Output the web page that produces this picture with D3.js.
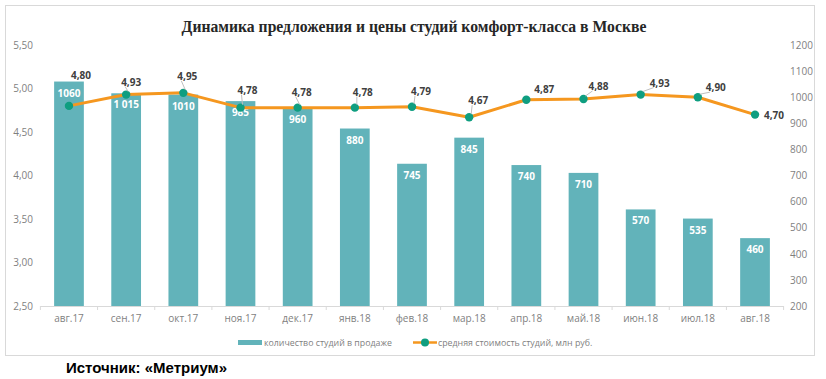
<!DOCTYPE html>
<html><head><meta charset="utf-8">
<script src="https://cdn.jsdelivr.net/npm/d3@7"></script>
<style>
html,body{margin:0;padding:0;background:#fff;}
svg{display:block;}
</style>
</head><body>
<svg id="c" width="826" height="379"></svg>
<script>
const categories = ["авг.17","сен.17","окт.17","ноя.17","дек.17","янв.18","фев.18","мар.18","апр.18","май.18","июн.18","июл.18","авг.18"];
const countValues = [1060,1015,1010,985,960,880,745,845,740,710,570,535,460];
const countLabels = ["1060","1 015","1010","985","960","880","745","845","740","710","570","535","460"];
const priceValues = [4.80,4.93,4.95,4.78,4.78,4.78,4.79,4.67,4.87,4.88,4.93,4.90,4.70];
const leftTicks = [2.5,3.0,3.5,4.0,4.5,5.0,5.5];
const rightTicks = [200,300,400,500,600,700,800,900,1000,1100,1200];
const title = "Динамика предложения и цены студий комфорт-класса в Москве";
const legendBars = "количество студий в продаже";
const legendLine = "средняя стоимость студий, млн руб.";
const source = "Источник: «Метриум»";

// label placement for price labels (dx, dy from point; leader flag)
const priceLabelOffsets = [[12,-31,0],[5,-13,1],[4,-17,1],[7,-18,1],[4,-16,1],[8,-16,1],[9,-16,1],[9,-17,1],[18,-11,0],[15,-13,1],[19,-12,1],[18,-10,1],[19,0,0]];

const svg = d3.select("#c");
const sans = "'Open Sans', 'Liberation Sans', sans-serif";
const gray = "#7f7f7f";

// frame
svg.append("rect").attr("x",5.5).attr("y",5.5).attr("width",809).attr("height",350)
  .attr("fill","#fff").attr("stroke","#d9d9d9").attr("stroke-width",1);

svg.append("text").attr("x",414).attr("y",32).attr("text-anchor","middle")
  .attr("font-family","'Liberation Serif', 'Times New Roman', serif").attr("font-weight","bold")
  .attr("font-size",15.7).attr("fill","#262626").text(title);

const x = d3.scaleBand().domain(categories).range([40.4,783.6]).paddingInner(0.48).paddingOuter(0.24);
const yL = d3.scaleLinear().domain([2.5,5.5]).range([306,45]);
const yR = d3.scaleLinear().domain([200,1200]).range([306,45]);

// bars
svg.append("g").selectAll("rect").data(countValues).join("rect")
  .attr("x",(d,i)=>x(categories[i])).attr("width",x.bandwidth())
  .attr("y",d=>yR(d)).attr("height",d=>yR(200)-yR(d)).attr("fill","#62b3ba");

svg.append("g").selectAll("text").data(countValues).join("text")
  .attr("x",(d,i)=>x(categories[i])+x.bandwidth()/2).attr("y",d=>yR(d)+15)
  .attr("text-anchor","middle").attr("font-family",sans).attr("font-weight","bold")
  .attr("font-size",10).attr("fill","#fff").text((d,i)=>countLabels[i]);

// x axis
const xAxis = d3.axisBottom(x).tickSize(0).tickPadding(9);
const gx = svg.append("g").attr("transform","translate(0,306)").call(xAxis);
gx.select(".domain").remove();
gx.selectAll("text").attr("font-family",sans).attr("font-size",10).attr("fill",gray);
svg.append("line").attr("x1",40.4).attr("x2",783.6).attr("y1",306.5).attr("y2",306.5).attr("stroke","#d9d9d9");
const step = x.step();
svg.append("g").selectAll("line").data(d3.range(categories.length+1)).join("line")
  .attr("x1",i=>40.4+i*step).attr("x2",i=>40.4+i*step).attr("y1",306).attr("y2",310)
  .attr("stroke","#d9d9d9");

// left axis
const gl = svg.append("g").attr("transform","translate(40,0)")
  .call(d3.axisLeft(yL).tickValues(leftTicks).tickSize(0).tickPadding(7).tickFormat(d=>d3.format(".2f")(d).replace(".",",")));
gl.select(".domain").remove();
gl.selectAll("text").attr("font-family",sans).attr("font-size",10).attr("fill",gray);

// right axis
const gr = svg.append("g").attr("transform","translate(784,0)")
  .call(d3.axisRight(yR).tickValues(rightTicks).tickSize(0).tickPadding(6).tickFormat(d3.format("d")));
gr.select(".domain").remove();
gr.selectAll("text").attr("font-family",sans).attr("font-size",10).attr("fill",gray);

// price line
const cx = (i)=>x(categories[i])+x.bandwidth()/2;
const line = d3.line().x((d,i)=>cx(i)).y(d=>yL(d));
svg.append("path").datum(priceValues).attr("d",line).attr("fill","none")
  .attr("stroke","#f5971f").attr("stroke-width",3).attr("stroke-linejoin","round");
svg.append("g").selectAll("circle").data(priceValues).join("circle")
  .attr("cx",(d,i)=>cx(i)).attr("cy",d=>yL(d)).attr("r",4.2).attr("fill","#0f9e80");

// price labels
const pl = svg.append("g");
priceValues.forEach((d,i)=>{
  const [dx,dy,lead] = priceLabelOffsets[i];
  const px = cx(i), py = yL(d);
  if(lead){
    pl.append("line").attr("x1",px+2).attr("y1",py-3).attr("x2",px+dx-6).attr("y2",py+dy+5)
      .attr("stroke","#bfbfbf").attr("stroke-width",1);
  }
  pl.append("text").attr("x",px+dx).attr("y",py+dy+4).attr("text-anchor","middle")
    .attr("font-family",sans).attr("font-weight","bold").attr("font-size",10).attr("fill","#404040")
    .text(d3.format(".2f")(d).replace(".",","));
});

// legend
const lg = svg.append("g");
lg.append("rect").attr("x",238).attr("y",340).attr("width",24).attr("height",5).attr("fill","#62b3ba");
lg.append("text").attr("x",264).attr("y",346).attr("font-family",sans).attr("font-size",8.8).attr("fill",gray).text(legendBars);
lg.append("line").attr("x1",413).attr("x2",437).attr("y1",342.5).attr("y2",342.5).attr("stroke","#f5971f").attr("stroke-width",2.5);
lg.append("circle").attr("cx",425).attr("cy",342.5).attr("r",4).attr("fill","#0f9e80");
lg.append("text").attr("x",438).attr("y",346).attr("font-family",sans).attr("font-size",8.8).attr("fill",gray).text(legendLine);

// source
svg.append("text").attr("x",66).attr("y",373).attr("font-family","'Liberation Sans', Arial, sans-serif")
  .attr("font-weight","bold").attr("font-size",15).attr("fill","#000").text(source);
</script>
</body></html>
